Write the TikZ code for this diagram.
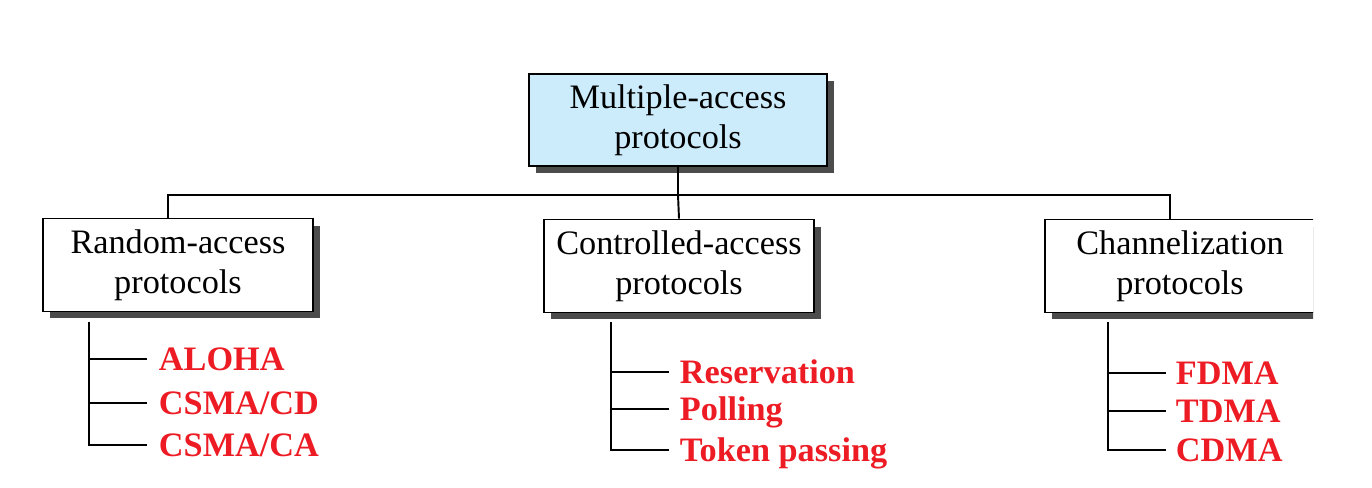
\documentclass[tikz,border=0pt]{standalone}
\usepackage{fontspec}
\setmainfont{Liberation Serif}
\usepackage{tikz}
\usetikzlibrary{positioning, shadows}

\definecolor{boxblue}{RGB}{204,236,251}
\definecolor{itemred}{RGB}{237,28,36}

\begin{document}
\begin{tikzpicture}[x=0.02cm, y=-0.02cm, line width=1.1pt,
  proto/.style={draw, fill=white, minimum width=5.4cm, minimum height=1.86cm,
    align=center, font=\fontsize{19.5}{22.5}\selectfont,
    drop shadow={shadow xshift=0.14cm, shadow yshift=-0.14cm, fill=black!70, opacity=1}},
  item/.style={anchor=west, inner sep=0pt, text height=0.44cm, text depth=0pt,
    text=itemred, font=\fontsize{19.5}{22}\selectfont\bfseries}]
  \useasboundingbox (0,0) rectangle (1372,487);
  \begin{scope}
  \clip (0,0) rectangle (1313,487);

  % protocol boxes
  \node[proto, fill=boxblue, minimum width=5.96cm, minimum height=1.84cm] (multiple) at (678,120) {Multiple-access\\protocols};
  \node[proto] (random) at (178,265) {Random-access\\protocols};
  \node[proto] (controlled) at (679,266) {Controlled-access\\protocols};
  \node[proto] (channel) at (1180,266) {Channelization\\protocols};

  \coordinate (bus) at (678,195);
  \draw (multiple.south) -- (bus);
  \draw (bus) -- (controlled.north);
  \draw ([xshift=-0.2cm]random.north) |- (bus) -| ([xshift=-0.2cm]channel.north);

  % random access
  \coordinate (rtrunk) at (89,322);
  \node[item] (aloha) at (158,359) {ALOHA};
  \node[item] (csmacd) at (158,403) {CSMA/CD};
  \node[item] (csmaca) at (158,445) {CSMA/CA};
  \draw (rtrunk) |- ([xshift=-0.22cm]csmaca.west);
  \draw (rtrunk |- aloha) -- ([xshift=-0.22cm]aloha.west);
  \draw (rtrunk |- csmacd) -- ([xshift=-0.22cm]csmacd.west);

  % controlled access
  \coordinate (ctrunk) at (611,322);
  \node[item] (reservation) at (679,372) {Reservation};
  \node[item] (polling) at (679,409) {Polling};
  \node[item] (token) at (679,450) {Token passing};
  \draw (ctrunk) |- ([xshift=-0.2cm]token.west);
  \draw (ctrunk |- reservation) -- ([xshift=-0.2cm]reservation.west);
  \draw (ctrunk |- polling) -- ([xshift=-0.2cm]polling.west);

  % channelization
  \coordinate (chtrunk) at (1108,322);
  \node[item] (fdma) at (1175,373) {FDMA};
  \node[item] (tdma) at (1175,411) {TDMA};
  \node[item] (cdma) at (1175,450) {CDMA};
  \draw (chtrunk) |- ([xshift=-0.18cm]cdma.west);
  \draw (chtrunk |- fdma) -- ([xshift=-0.18cm]fdma.west);
  \draw (chtrunk |- tdma) -- ([xshift=-0.18cm]tdma.west);
  \end{scope}
\end{tikzpicture}
\end{document}
